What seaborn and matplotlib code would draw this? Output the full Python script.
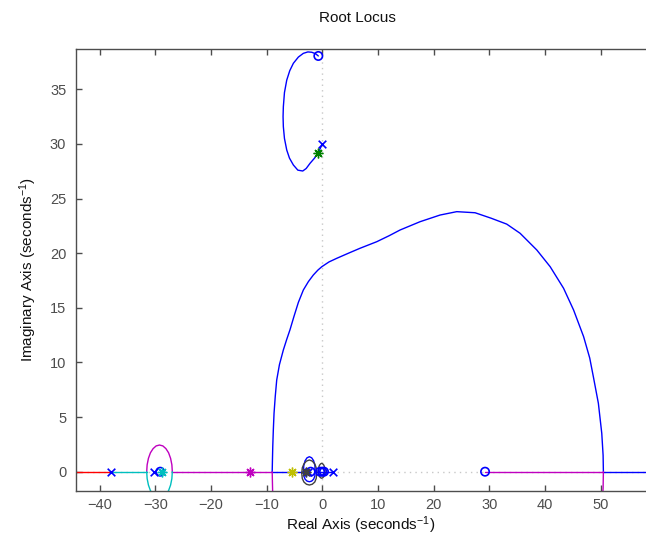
import numpy as np
import pandas as pd
import matplotlib
matplotlib.use("Agg")
import matplotlib.pyplot as plt
import seaborn as sns

# ---------------- data ----------------
# main complex branch (upper half, blue); its conjugate is drawn in magenta
big_x = [-9.0, -8.95, -8.9, -8.8, -8.67, -8.45, -8.19, -7.7, -7.0, -6.4, -5.8, -5.1,
         -4.3, -3.41, -2.5, -1.62, -0.8, -0.1, 1.2, 2.59, 4.7, 6.77, 9.77, 12.0,
         13.95, 17.54, 21.13, 24.13, 27.42, 30.3, 33.1, 35.5, 38.5, 40.9, 43.3, 45.1,
         46.9, 48.0, 48.65, 49.55, 50.16, 50.4, 50.45]
big_y = [0.0, 1.2, 2.29, 3.8, 5.35, 6.9, 8.39, 9.8, 11.14, 12.1, 13.0, 14.2,
         15.5, 16.63, 17.4, 18.0, 18.45, 18.76, 19.2, 19.53, 20.0, 20.45, 21.05, 21.6,
         22.12, 22.88, 23.49, 23.8, 23.7, 23.2, 22.66, 21.82, 20.29, 18.76, 16.79, 14.8,
         12.36, 10.4, 8.69, 6.26, 3.51, 1.5, 0.0]

# upper loop (blue) from the pole at j30 to the zero near j38
top_x = [0.0, -0.72, -1.4, -2.2, -2.9, -3.52, -4.4, -5.2, -5.9, -6.39, -6.8, -7.0,
         -7.05, -7.0, -6.8, -6.39, -5.85, -5.2, -4.3, -3.41, -2.6, -1.9, -1.2, -0.72]
top_y = [30.0, 29.2, 28.7, 28.23, 27.75, 27.52, 27.6, 28.07, 28.7, 29.44, 30.5, 31.58,
         32.5, 33.4, 34.7, 35.84, 36.7, 37.38, 37.95, 38.29, 38.42, 38.39, 38.25, 38.05]

# loop around -29 (upper magenta, lower cyan)
loopA_x = [-31.53, -31.45, -31.22, -30.86, -30.38, -29.83, -29.23, -28.63, -28.08,
           -27.6, -27.24, -27.01, -26.93]
loopA_y = [0.0, 0.63, 1.22, 1.73, 2.11, 2.36, 2.44, 2.36, 2.11, 1.73, 1.22, 0.63, 0.0]

# small loops near -2.3 (blue / black) and near 0 (black)
loopB_x = [-3.41, -3.33, -3.1, -2.75, -2.33, -1.91, -1.56, -1.33, -1.31, -1.33, -1.56,
           -1.91, -2.33, -2.75, -3.1, -3.33, -3.41]
loopB_y = [0.0, 0.55, 1.0, 1.27, 1.37, 1.27, 1.0, 0.55, 0.0, -0.38, -0.68, -0.86,
           -0.92, -0.86, -0.68, -0.38, 0.0]
loopC_x = [-3.7, -3.6, -3.3, -2.85, -2.33, -1.81, -1.36, -1.1, -1.0, -1.1, -1.36,
           -1.81, -2.33, -2.85, -3.3, -3.6, -3.7]
loopC_y = [-0.15, 0.35, 0.72, 0.97, 1.07, 0.97, 0.72, 0.35, -0.15, -0.62, -0.95, -1.15,
           -1.22, -1.15, -0.95, -0.62, -0.15]
loopD_x = [-0.72, -0.67, -0.5, -0.3, -0.12, 0.06, 0.26, 0.43, 0.48, 0.43, 0.26, 0.06,
           -0.12, -0.3, -0.5, -0.67, -0.72]
loopD_y = [0.08, 0.38, 0.6, 0.72, 0.77, 0.72, 0.6, 0.38, 0.08, -0.25, -0.45, -0.56,
           -0.6, -0.56, -0.45, -0.25, 0.08]

# real-axis segments: (x_start, x_end, colour)
seg_start = [-60.0, -38.0, -26.93, -9.0, -1.0, 29.21, 50.45]
seg_end = [-38.0, -31.53, -9.0, -3.0, 2.0, 50.45, 70.0]
seg_color = ["r", "c", "m", "b", "b", "m", "b"]

# open-loop poles (x) and zeros (o)
pole_x = [-38.0, -30.2, -2.6, 2.0, 0.0]
pole_y = [0.0, 0.0, 0.0, 0.0, 30.0]
zero_x = [-29.1, -2.1, -0.4, 0.0, 0.3, 29.21, -0.72]
zero_y = [0.0, 0.0, 0.0, 0.0, 0.0, 0.0, 38.05]
# closed-loop markers (*)
star_x = [-0.72, -12.9, -5.5, -3.0, -28.8]
star_y = [29.2, 0.0, 0.0, 0.0, 0.0]
star_c = ["g", "m", "y", "k", "c"]

# ---------------- style ----------------
sns.set_style("white")
plt.rcParams["font.family"] = ["Liberation Sans", "DejaVu Sans"]
plt.rcParams["mathtext.fontset"] = "custom"
plt.rcParams["mathtext.rm"] = "Liberation Sans"
plt.rcParams["mathtext.it"] = "Liberation Sans"
plt.rcParams["mathtext.default"] = "regular"

COL = {"b": (0, 0, 1), "g": (0, 0.5, 0), "r": (1, 0, 0), "c": (0, 0.75, 0.75),
       "m": (0.75, 0, 0.75), "y": (0.75, 0.75, 0), "k": (0.25, 0.25, 0.25)}
GREY = "#4d4d4d"

fig = plt.figure(figsize=(6.46, 5.37), dpi=100)
ax = fig.add_axes([76 / 646, 1 - 490.7 / 537, 1 - 76 / 646, (490.7 - 49.3) / 537])

# reference lines at 0
ax.axvline(0, color="#c8c8c8", ls=(0, (1, 3)), lw=1.0, zorder=0)
ax.axhline(0, color="#c8c8c8", ls=(0, (1, 3)), lw=1.0, zorder=0)

LW = 1.0


def line(xs, ys, c):
    sns.lineplot(x=xs, y=ys, sort=False, estimator=None, color=COL[c], lw=LW, ax=ax)


for s, e, c in zip(seg_start, seg_end, seg_color):
    line([s, e], [0, 0], c)

line(big_x, big_y, "b")
line(big_x, [-v for v in big_y], "m")
line(top_x, top_y, "b")
line(loopA_x, loopA_y, "m")
line(loopA_x, [-v for v in loopA_y], "c")
line(loopB_x, loopB_y, "b")
line(loopC_x, loopC_y, "k")
line(loopD_x, loopD_y, "k")

sns.scatterplot(x=pole_x, y=pole_y, marker="x", color=COL["b"], s=30,
                linewidth=1.2, ax=ax, zorder=5)
ax.scatter(zero_x, zero_y, marker="o", facecolors="none", edgecolors=COL["b"],
           s=36, linewidths=1.2, zorder=5)
for x, y, c in zip(star_x, star_y, star_c):
    ax.plot(x, y, marker=(8, 2, 0), color=COL[c], ms=7, mew=1.0, ls="none", zorder=6)

ax.set_xlim(-44.22, 58.1)
ax.set_ylim(-1.74, 38.66)
ax.set_xticks(np.arange(-40, 51, 10))
ax.set_yticks(np.arange(0, 36, 5))

for side in ["left", "bottom", "top"]:
    ax.spines[side].set_color(GREY)
    ax.spines[side].set_linewidth(1.0)
ax.spines["right"].set_visible(False)
ax.tick_params(axis="both", direction="in", length=4, width=1.0, color=GREY,
               labelcolor=GREY, labelsize=10.5)
ax.tick_params(axis="x", top=True, bottom=True, pad=5)
ax.tick_params(axis="y", left=True, right=False, pad=7)

ax.set_title("Root Locus", fontsize=11, color="#111111", x=(357.6 - 76) / 570, pad=20)
ax.set_xlabel("Real Axis (seconds$^{-1}$)", fontsize=11, color="#111111", labelpad=2)
ax.set_ylabel("Imaginary Axis (seconds$^{-1}$)", fontsize=11, color="#111111", labelpad=8)

fig.savefig("out.png", dpi=100)
